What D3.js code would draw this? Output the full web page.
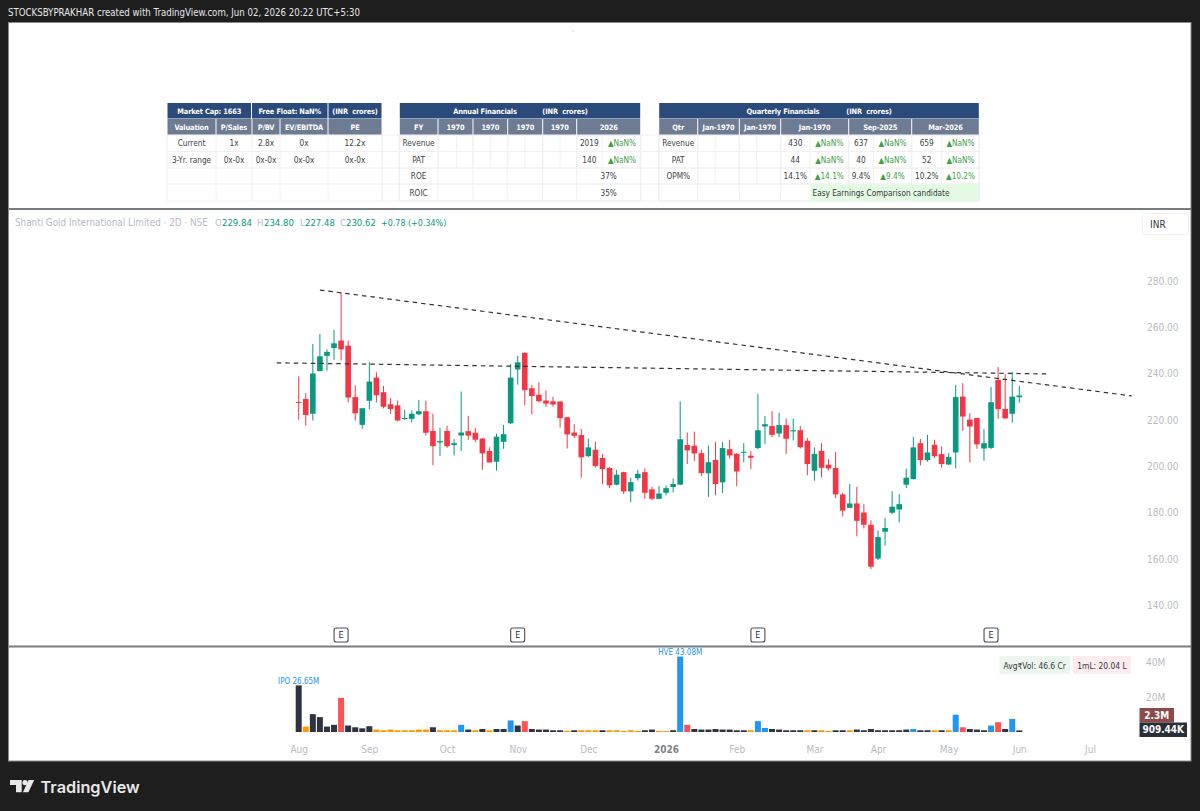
<!DOCTYPE html>
<html>
<head>
<meta charset="utf-8">
<title>Shanti Gold International Limited</title>
<script src="https://cdn.jsdelivr.net/npm/d3@7"></script>
<style>
  html, body { margin: 0; padding: 0; background: #1e1e1e; }
  svg { display: block; }
  text { white-space: pre; }
</style>
</head>
<body>
<svg id="chart" width="1200" height="811"></svg>
<script>
// Two-day candles, oldest first.
const opens = [227.8,229.1,222.7,241.1,247.7,251.1,254.3,252.1,229.9,217.9,228.3,238.3,232.0,226.8,226.3,220.4,220.5,222.5,223.8,215.3,210.3,215.3,209.2,213.3,215.2,214.5,212.0,206.7,202.0,210.6,218.6,241.8,249.0,233.7,230.9,228.4,228.1,228.0,221.2,214.6,213.5,204.4,207.2,203.6,199.3,192.1,197.5,189.2,194.9,197.5,190.1,186.0,188.6,191.1,192.1,209.2,208.9,205.7,197.0,202.8,193.1,207.4,205.4,205.9,204.6,207.9,217.2,217.4,214.2,217.8,215.1,215.6,211.0,198.1,206.7,200.7,199.3,187.9,182.1,184.0,180.1,174.8,160.2,171.8,180.0,181.4,192.1,194.5,210.0,202.7,209.3,205.3,200.8,206.0,230.1,220.2,220.9,207.7,208.0,237.3,224.8,222.7,229.84];
const highs = [238.8,231.6,252.8,257.1,250.5,258.9,275.0,254.3,235.0,225.1,245.1,240.6,234.7,229.4,228.4,224.4,224.1,228.7,228.4,222.7,216.6,217.5,211.8,232.3,221.8,216.5,212.2,208.2,214.1,217.9,244.2,247.7,249.2,235.2,236.3,232.7,230.1,228.1,221.2,218.2,216.2,211.9,210.7,205.4,199.7,198.5,197.7,195.1,198.5,199.2,191.2,191.6,191.8,194.7,228.1,214.6,215.0,207.2,209.0,210.5,210.5,211.5,205.7,210.0,206.6,231.3,221.8,223.8,223.1,220.7,220.7,217.4,212.2,208.2,210.0,203.1,206.2,188.5,192.4,191.2,183.7,176.7,172.4,177.8,189.3,188.0,199.0,212.8,211.8,213.6,211.5,208.6,205.7,235.2,235.9,222.9,220.9,216.1,234.2,242.9,239.8,240.8,234.80];
const lows = [220.1,217.6,219.8,241.1,241.3,246.0,245.7,227.6,219.8,216.2,224.7,227.6,225.0,222.7,219.4,220.1,218.9,222.2,213.3,200.5,204.4,208.0,204.7,206.6,211.5,210.5,198.5,201.6,198.1,207.6,218.2,235.3,226.4,222.5,227.6,225.7,225.8,216.8,207.7,212.2,195.2,204.0,199.5,192.3,190.6,191.8,188.0,184.6,193.9,186.0,185.3,185.9,187.5,188.8,191.9,201.0,202.3,195.9,186.8,187.5,188.5,203.4,191.4,201.7,198.8,207.4,209.7,212.6,212.6,205.4,211.2,207.7,196.2,193.8,195.2,198.2,186.3,178.4,182.0,169.8,173.2,155.7,159.6,165.9,179.4,175.8,190.6,194.4,200.4,202.0,203.6,199.5,200.6,199.1,215.3,201.7,207.6,202.4,207.4,220.5,220.4,218.9,227.48];
const closes = [227.4,222.2,240.1,247.5,249.4,253.1,250.5,229.7,222.9,225.1,236.6,230.7,225.7,224.7,219.8,220.9,222.7,223.8,214.5,208.7,210.9,208.7,210.0,214.6,213.3,211.5,205.6,201.7,212.8,213.9,238.3,244.9,232.9,230.4,228.1,227.1,226.7,220.8,213.8,213.2,203.9,208.2,200.1,198.8,191.8,196.4,189.2,193.2,196.8,188.6,186.0,188.3,190.6,192.4,211.7,206.9,205.6,197.1,201.8,192.4,207.9,204.7,197.8,206.3,203.7,215.6,218.2,213.6,217.8,211.9,215.6,208.3,201.0,205.4,199.4,199.1,187.9,180.9,184.0,176.5,174.8,156.7,169.5,173.4,182.6,183.7,195.1,208.2,202.7,206.0,204.4,201.0,204.0,229.9,221.5,217.2,209.5,210.0,227.7,224.7,220.7,230.1,230.62];

// Traded volume in millions of shares, with the highlight class of each bar:
// n = normal, o = low volume, b = high volume up day, r = high volume down day.
const volumes = [26.65,3.1,10.2,8.5,3.1,4.1,19.5,3.7,2.7,2.1,3.3,1.4,1.0,1.4,1.0,1.0,1.0,1.4,1.4,2.7,1.0,1.0,1.0,4.1,1.4,1.0,1.7,1.0,1.7,1.7,6.6,3.7,6.2,1.7,1.4,1.4,1.0,1.0,0.7,1.0,1.0,1.0,1.0,1.0,1.0,1.0,0.6,1.0,0.6,1.0,1.4,0.6,0.6,1.0,43.08,4.1,1.7,1.4,1.4,1.7,1.4,1.4,1.0,1.0,1.0,6.2,2.3,1.7,1.4,1.0,1.0,1.0,1.0,1.0,1.0,0.6,1.0,1.0,1.0,1.4,1.0,1.7,1.0,1.0,1.0,1.0,1.4,1.7,1.0,1.0,1.0,1.0,1.0,9.9,2.7,1.7,1.4,1.0,3.7,5.6,1.7,7.5,0.91];
const volumeClasses = ["nonnnnrnnnn","oooooooo","n","ooo","b","n","o","n","o","nn","b","n","r","nnnnn","o","n","ooo","n","ooooo","nn","oo","n","b","r","nnnnnnnn","o","bb","nnnnn","o","n","oo","nn","o","nnnnnnnn","b","nn","o","n","o","b","r","nnn","b","r","n","b","n"].join("").split("");

// Trend lines as [bar index, price] end points.
const trendLines = [
  [[3.0, 276.1], [117.9, 230.4]],
  [[-3.1, 244.7], [105.8, 239.9]]
];
const earningsBars = [6, 31, 65, 98];
const priceTicks = [140, 160, 180, 200, 220, 240, 260, 280];
const volumeTicks = [20, 40];
const timeTicks = [[0,"Aug"],[10,"Sep"],[21,"Oct"],[31,"Nov"],[41,"Dec"],[52,"2026"],[62,"Feb"],[73,"Mar"],[82,"Apr"],[92,"May"],[102,"Jun"],[112,"Jul"]];

// Summary tables.
const valuationTop = ["Market Cap: 1663", "Free Float: NaN%", "(INR  crores)"];
const valuationHead = ["Valuation", "P/Sales", "P/BV", "EV/EBITDA", "PE"];
const valuationRows = [["Current","1x","2.8x","0x","12.2x"], ["3-Yr. range","0x-0x","0x-0x","0x-0x","0x-0x"]];
const annualHead = ["FY","1970","1970","1970","1970","2026"];
const annualRows = [["Revenue","2019","▲NaN%"], ["PAT","140","▲NaN%"], ["ROE","37%",""], ["ROIC","35%",""]];
const quarterlyHead = ["Qtr","Jan-1970","Jan-1970","Jan-1970","Sep-2025","Mar-2026"];
const quarterlyRows = [
  ["Revenue","430","▲NaN%","637","▲NaN%","659","▲NaN%"],
  ["PAT","44","▲NaN%","40","▲NaN%","52","▲NaN%"],
  ["OPM%","14.1%","▲14.1%","9.4%","▲9.4%","10.2%","▲10.2%"]
];

const UP = "#089981", DOWN = "#f23645";
const volumeColors = { n: "#2f3340", o: "#ff9800", b: "#2196f3", r: "#ff5252" };
const tableFont = "'DejaVu Sans Condensed', 'DejaVu Sans', sans-serif";
const uiFont = "'DejaVu Sans Condensed', 'DejaVu Sans', sans-serif";

const svg = d3.select("#chart");

// Frame: dark page, white pane, dividers between the table, price and volume panes.
svg.append("rect").attr("width", 1200).attr("height", 811).attr("fill", "#1e1e1e");
svg.append("rect").attr("x", 8.5).attr("y", 22.5).attr("width", 1182.5).attr("height", 738.5)
  .attr("fill", "#fff").attr("stroke", "#8a8a8a");
[209, 646.5].forEach(y => svg.append("rect").attr("x", 9).attr("y", y - 1).attr("width", 1182).attr("height", 2).attr("fill", "#787b80"));
svg.append("circle").attr("cx", 573).attr("cy", 31).attr("r", 0.8).attr("fill", "#c8c8c8");

svg.append("text").attr("x", 8).attr("y", 15.5)
  .attr("font-family", uiFont).attr("font-size", 9.6).attr("font-stretch", "condensed").attr("fill", "#e6e6e6")
  .text("STOCKSBYPRAKHAR created with TradingView.com, Jun 02, 2026 20:22 UTC+5:30");

// ---- Tables ----
const tables = svg.append("g");
const rowEdges = [103, 119, 135, 151.5, 168, 184, 201];
const NAVY = "#2b4a7c", SLATE = "#6d7b93";

function label(x, y, txt, opts = {}) {
  return tables.append("text").attr("x", x).attr("y", y)
    .attr("text-anchor", opts.anchor || "middle").attr("dominant-baseline", "central")
    .attr("font-family", tableFont).attr("font-stretch", "condensed").attr("font-size", opts.size || 8.2)
    .attr("letter-spacing", opts.spacing || 0)
    .attr("font-weight", opts.weight || 400).attr("fill", opts.color || "#3c3f46").text(txt);
}
const topLabel = { color: "#fff", weight: 700, size: 7.4, spacing: -0.15 };
function headerCell(x0, x1, y0, y1, fill, txt) {
  tables.append("rect").attr("x", x0 + 0.5).attr("y", y0).attr("width", x1 - x0 - 1).attr("height", y1 - y0 - 0.5).attr("fill", fill);
  if (txt) label((x0 + x1) / 2, (y0 + y1) / 2, txt, topLabel);
}
function bodyGrid(edges, splitRows = 4) {
  // Light cell borders for the four body rows.
  const line = (x1, y1, x2, y2) => tables.append("line").attr("x1", x1).attr("y1", y1).attr("x2", x2).attr("y2", y2).attr("stroke", "#f0f0f0");
  for (let r = 2; r < rowEdges.length; r++) line(edges[0], rowEdges[r], edges[edges.length - 1], rowEdges[r]);
  edges.forEach((x, i) => line(x, rowEdges[2], x, i > 0 && i < edges.length - 1 && splitRows < 4 ? rowEdges[2 + splitRows] : rowEdges[6]));
}
const bodyY = r => (rowEdges[r + 2] + rowEdges[r + 3]) / 2;
const GREEN_TEXT = "#43a047";
const topY = (rowEdges[0] + rowEdges[1]) / 2;

// Valuation table
const valCols = [167, 216, 252, 280, 328, 382];
bodyGrid(valCols);
bodyGrid([382, 399.3]);
headerCell(167, 251.5, rowEdges[0], rowEdges[1], NAVY, valuationTop[0]);
headerCell(251.5, 328, rowEdges[0], rowEdges[1], NAVY, valuationTop[1]);
headerCell(328, 382, rowEdges[0], rowEdges[1], NAVY, valuationTop[2]);
valuationHead.forEach((t, i) => headerCell(valCols[i], valCols[i + 1], rowEdges[1], rowEdges[2], SLATE, t));
valuationRows.forEach((row, r) => row.forEach((t, i) => label((valCols[i] + valCols[i + 1]) / 2, bodyY(r), t)));

// Annual table
const annCols = [399.3, 438, 473, 507.7, 542.7, 576.7, 640.7];
bodyGrid(annCols);
bodyGrid([399.3, 438, 456.7, 473, 490.7, 507.7, 525, 542.7, 560, 576.7, 602, 640.7], 2);
bodyGrid([640.7, 658.7]);
headerCell(399.3, 640.7, rowEdges[0], rowEdges[1], NAVY);
label(485, topY, "Annual Financials", topLabel);
label(565, topY, "(INR  crores)", topLabel);
annualHead.forEach((t, i) => headerCell(annCols[i], annCols[i + 1], rowEdges[1], rowEdges[2], SLATE, t));
annualRows.forEach((row, r) => {
  label(418.6, bodyY(r), row[0]);
  if (row[2]) {
    label(589.3, bodyY(r), row[1]);
    label(622, bodyY(r), row[2], { color: GREEN_TEXT });
  } else {
    label(608.7, bodyY(r), row[1]);
  }
});

// Quarterly table
const qtrCols = [658.7, 697.7, 739.3, 780.7, 848.7, 911.7, 979.3];
const qtrSplits = [658.7, 697.7, 715.7, 739.3, 756.7, 780.7, 810, 848.7, 873.3, 911.7, 941.7, 979.3];
bodyGrid(qtrCols);
bodyGrid(qtrSplits, 3);
tables.append("rect").attr("x", 810).attr("y", rowEdges[5] + 0.5).attr("width", 169.3).attr("height", rowEdges[6] - rowEdges[5] - 0.5).attr("fill", "#e2fbe2");
label(812.5, bodyY(3), "Easy Earnings Comparison candidate", { anchor: "start", color: "#33363d" });
headerCell(658.7, 979.3, rowEdges[0], rowEdges[1], NAVY);
label(783, topY, "Quarterly Financials", topLabel);
label(869, topY, "(INR  crores)", topLabel);
quarterlyHead.forEach((t, i) => headerCell(qtrCols[i], qtrCols[i + 1], rowEdges[1], rowEdges[2], SLATE, t));
const qtrCentres = [678.2, 795.3, 829.3, 861, 892.5, 926.7, 960.5];
quarterlyRows.forEach((row, r) => row.forEach((t, i) =>
  label(qtrCentres[i], bodyY(r), t, { color: t.startsWith("▲") ? GREEN_TEXT : "#3c3f46" })));

// ---- Price pane ----
const x = d3.scaleLinear().domain([0, 102]).range([298.7, 1019.3]);
const y = d3.scaleLinear().domain([140, 280]).range([605.4, 281]);
const vy = d3.scaleLinear().domain([0, 40]).range([732, 662]);
const isUp = i => closes[i] >= opens[i];
const BODY_W = 5.6, VOL_W = 6;
const idx = d3.range(opens.length);

const GREY = "#b8bbc2";
const legend = svg.append("text").attr("y", 225.5).attr("font-family", uiFont).attr("font-stretch", "condensed");
const legendParts = [
  [15, "Shanti Gold International Limited · 2D · NSE", GREY, 9.8],
  [215, "O", GREY, 9.5], [222, "229.84", UP, 9.5],
  [257, "H", GREY, 9.5], [264, "234.80", UP, 9.5],
  [300, "L", GREY, 9.5], [305, "227.48", UP, 9.5],
  [340, "C", GREY, 9.5], [346, "230.62", UP, 9.5],
  [381, "+0.78 (+0.34%)", UP, 8.9]
];
legend.selectAll("tspan").data(legendParts).join("tspan")
  .attr("x", d => d[0]).attr("fill", d => d[2]).attr("font-size", d => d[3]).text(d => d[1]);

const candles = svg.append("g").attr("class", "candles");
candles.selectAll("line").data(idx).join("line")
  .attr("x1", i => x(i)).attr("x2", i => x(i))
  .attr("y1", i => y(highs[i])).attr("y2", i => y(lows[i]))
  .attr("stroke", i => isUp(i) ? UP : DOWN).attr("stroke-width", 1);
candles.selectAll("rect").data(idx).join("rect")
  .attr("x", i => x(i) - BODY_W / 2).attr("width", BODY_W)
  .attr("y", i => y(Math.max(opens[i], closes[i])))
  .attr("height", i => Math.max(1, Math.abs(y(opens[i]) - y(closes[i]))))
  .attr("fill", i => isUp(i) ? UP : DOWN);

const trend = d3.line().x(d => x(d[0])).y(d => y(d[1]));
svg.append("g").selectAll("path").data(trendLines).join("path")
  .attr("d", trend).attr("fill", "none").attr("stroke", "#333").attr("stroke-width", 1.2).attr("stroke-dasharray", "4.5 4");

// Earnings markers sitting on the bottom of the price pane.
const marks = svg.append("g").selectAll("g").data(earningsBars).join("g")
  .attr("transform", d => `translate(${x(d)},635)`);
marks.append("rect").attr("x", -7).attr("y", -7).attr("width", 14).attr("height", 14).attr("rx", 2)
  .attr("fill", "#fff").attr("stroke", "#4a4d54").attr("stroke-width", 1.1);
marks.append("text").attr("text-anchor", "middle").attr("dominant-baseline", "central")
  .attr("font-family", uiFont).attr("font-size", 9).attr("fill", "#2a2e39").text("E");

const styleAxis = g => {
  g.select(".domain").remove();
  g.selectAll("text").attr("font-family", uiFont).attr("font-stretch", "condensed").attr("font-size", 10).attr("fill", GREY);
};
svg.append("g").attr("transform", "translate(1147,0)")
  .call(d3.axisRight(y).tickValues(priceTicks).tickSize(0).tickPadding(0).tickFormat(d3.format(".2f")))
  .call(styleAxis);

// INR scale badge
svg.append("rect").attr("x", 1142.5).attr("y", 213.5).attr("width", 46).attr("height", 21).attr("rx", 3)
  .attr("fill", "#fff").attr("stroke", "#efefef");
svg.append("text").attr("x", 1150).attr("y", 224).attr("dominant-baseline", "central")
  .attr("font-family", uiFont).attr("font-size", 10).attr("fill", "#33363d").text("INR");

// ---- Volume pane ----
svg.append("g").selectAll("rect").data(idx).join("rect")
  .attr("x", i => x(i) - VOL_W / 2).attr("width", VOL_W)
  .attr("y", i => vy(volumes[i]))
  .attr("height", i => vy(0) - vy(volumes[i]))
  .attr("fill", i => volumeColors[volumeClasses[i]]);

const calloutStyle = s => s.attr("font-family", uiFont).attr("font-stretch", "condensed").attr("font-size", 8).attr("fill", "#2196f3").attr("text-anchor", "middle");
svg.append("text").attr("x", x(0)).attr("y", 683.5).call(calloutStyle).text("IPO 26.65M");
svg.append("text").attr("x", x(54)).attr("y", 655).call(calloutStyle).text("HVE 43.08M");

svg.append("g").attr("transform", "translate(1146,0)")
  .call(d3.axisRight(vy).tickValues(volumeTicks).tickSize(0).tickPadding(0).tickFormat(d => d + "M"))
  .call(styleAxis);

const chip = (x0, w, fill, txt) => {
  svg.append("rect").attr("x", x0).attr("y", 656).attr("width", w).attr("height", 18).attr("fill", fill);
  svg.append("text").attr("x", x0 + w / 2).attr("y", 665.5).attr("text-anchor", "middle").attr("dominant-baseline", "central")
    .attr("font-family", tableFont).attr("font-stretch", "condensed").attr("font-size", 8.4).attr("fill", "#33363d").text(txt);
};
chip(999.5, 70.5, "#edf6ee", "Avg₹Vol: 46.6 Cr");
chip(1073, 58, "#fdeced", "1mL: 20.04 L");

const priceTag = (x0, w, y0, h, fill, txt) => {
  svg.append("rect").attr("x", x0).attr("y", y0).attr("width", w).attr("height", h).attr("fill", fill);
  svg.append("text").attr("x", x0 + w / 2).attr("y", y0 + h / 2).attr("text-anchor", "middle").attr("dominant-baseline", "central")
    .attr("font-family", uiFont).attr("font-stretch", "condensed").attr("font-size", 10).attr("font-weight", 700).attr("fill", "#fff").text(txt);
};
priceTag(1139.5, 34.5, 708, 14.5, "#8c4a48", "2.3M");
priceTag(1139.5, 47.5, 722.5, 14.5, "#2a2e39", "909.44K");

// ---- Time axis ----
svg.append("g").attr("transform", "translate(0,746)")
  .call(d3.axisBottom(x).tickValues(timeTicks.map(d => d[0])).tickSize(0).tickPadding(0)
    .tickFormat(d => timeTicks.find(t => t[0] === d)[1]))
  .call(styleAxis)
  .selectAll("text").filter(d => d === 52).attr("fill", "#7e8188").attr("font-weight", 700);

// ---- Footer wordmark ----
const logo = svg.append("g").attr("fill", "#e8e8e8");
logo.append("path").attr("d", "M10 780H21.7V792.2H16V785H10Z");
logo.append("circle").attr("cx", 25).attr("cy", 782.6).attr("r", 2.6);
logo.append("path").attr("d", "M28.6 780H34.2L28.4 792.2H22.9Z");
svg.append("text").attr("x", 40.5).attr("y", 792.5)
  .attr("font-family", "Inter, 'Noto Sans', sans-serif").attr("font-size", 16.3).attr("font-weight", 600)
  .attr("fill", "#e8e8e8").text("TradingView");
</script>
</body>
</html>
